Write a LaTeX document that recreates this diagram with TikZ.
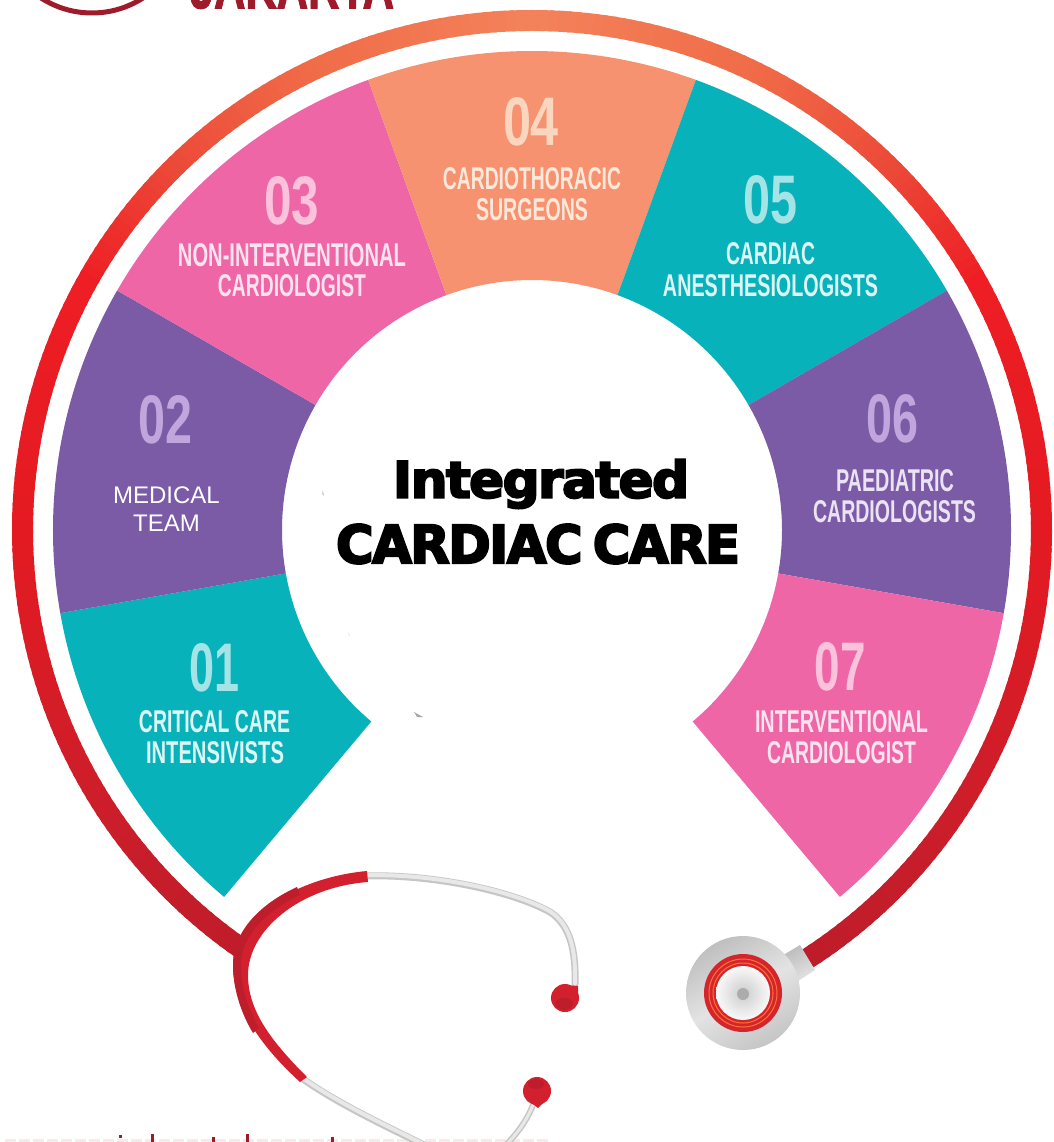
\documentclass[tikz,border=0pt]{standalone}
\usepackage{graphicx}
\usepackage{fontspec}
\setmainfont{Liberation Sans}
\newfontfamily\heavyf[BoldFeatures={FakeBold=4},LetterSpace=-3]{DejaVu Sans}
\newfontfamily\brandf[BoldFeatures={FakeBold=2}]{Liberation Sans}
\usetikzlibrary{calc}
\definecolor{tealc}{HTML}{08B2BB}
\definecolor{purplec}{HTML}{7B5AA6}
\definecolor{pinkc}{HTML}{EE66A6}
\definecolor{salmonc}{HTML}{F6926F}
\definecolor{numteal}{HTML}{A4E4E6}
\definecolor{numpurple}{HTML}{C0A6DC}
\definecolor{numpink}{HTML}{FBC2DC}
\definecolor{numsalmon}{HTML}{FBD6BF}
\definecolor{labteal}{HTML}{DDF6F6}
\definecolor{labpink}{HTML}{FCE3EF}
\definecolor{labpurple}{HTML}{EBE2F4}
\definecolor{labsalmon}{HTML}{FDE8DA}
\definecolor{brandred}{HTML}{9E1B2C}
\definecolor{tubered}{HTML}{D3202E}
\definecolor{tubedark}{HTML}{BE1E2C}
\definecolor{r0}{RGB}{243,130,90}
\definecolor{r1}{RGB}{240,108,72}
\definecolor{r2}{RGB}{236,72,56}
\definecolor{r3}{RGB}{238,30,36}
\definecolor{r4}{RGB}{228,26,34}
\definecolor{r5}{RGB}{205,30,42}
\definecolor{r6}{RGB}{190,28,42}
\newcommand{\seglab}[6]{\node[inner sep=0pt,text=#5] (#6) at (#1) {\resizebox{#2pt}{#3pt}{\bfseries #4}};}
\tikzset{
  greytube/.style={line width=7pt,draw=gray!45,line cap=round},
  greycore/.style={line width=4pt,draw=gray!18,line cap=round},
}
\begin{document}
\begin{tikzpicture}[x=1pt,y=-1pt]
\useasboundingbox (0,0) rectangle (1053,1142);
\fill[white] (0,0) rectangle (1053,1142);
\clip (0,0) rectangle (1053,1142);
% brand remnants
\draw[brandred,line width=5pt] (92,-81) circle[radius=94];
\node[anchor=south,inner sep=0pt,text=brandred] (brand) at (292,9) {\resizebox{204pt}{42pt}{\brandf\bfseries JAKARTA}};
% tops of the cut-off line at the lower edge
\draw[brandred!9,line width=4pt,dash pattern=on 11pt off 3pt] (5,1140.5) -- (548,1140.5);
\fill[brandred] (119,1135) rectangle (122,1138);
\fill[brandred] (151,1134) rectangle (153.5,1142);
\fill[brandred] (212,1137) rectangle (214.5,1142);
\fill[brandred] (246,1134) rectangle (248.5,1142);
\fill[brandred] (331,1137) rectangle (333.5,1142);
% ring and fan
\begin{scope}[shift={(532,530)},y=1pt]
  \foreach \ta/\tb/\ca/\cb in {0/25/r0/r1,25/45/r1/r2,45/60/r2/r3,60/90/r3/r4,90/120/r4/r5,120/147/r5/r6}{
    \pgfmathtruncatemacro\tend{\tb-1}
    \foreach \t in {\ta,...,\tend}{
      \pgfmathsetmacro\p{100*(\t-\ta)/(\tb-\ta)}
      \colorlet{ringnow}{\cb!\p!\ca}
      \pgfmathsetmacro\ar{90-\t}
      \pgfmathsetmacro\arb{90-\t-1.4}
      \draw[ringnow,line width=21pt] (\ar:509.5) arc[start angle=\ar,end angle=\arb,radius=509.5];
      \ifnum\t<145
        \pgfmathsetmacro\al{90+\t}
        \pgfmathsetmacro\alb{90+\t+1.4}
        \draw[ringnow,line width=21pt] (\al:509.5) arc[start angle=\al,end angle=\alb,radius=509.5];
      \fi
    }
  }
  \foreach \a/\b/\c in {230/190/tealc,190/150/purplec,150/110/pinkc,110/70/salmonc,70/30/tealc,30/-10/purplec,-10/-50/pinkc}{
    \fill[\c] (\a:479) arc[start angle=\a,end angle=\b,radius=479] -- (\b:250) arc[start angle=\b,end angle=\a,radius=250] -- cycle;
  }
\end{scope}
% numbers
\seglab{215,668}{50}{48}{01}{numteal}{n1}
\seglab{166,420}{54}{48}{02}{numpurple}{n2}
\seglab{292,201}{55}{48}{03}{numpink}{n3}
\seglab{531,122}{56}{48}{04}{numsalmon}{n4}
\seglab{770,200}{54}{48}{05}{numteal}{n5}
\seglab{892,419}{52}{48}{06}{numpurple}{n6}
\seglab{840,667}{51}{48}{07}{numpink}{n7}
% labels
\seglab{214.5,722}{151}{22}{CRITICAL CARE}{labteal}{l1a}
\seglab{215,753}{138}{22}{INTENSIVISTS}{labteal}{l1b}
\seglab{292,255}{228}{23}{NON-INTERVENTIONAL}{labpink}{l3a}
\seglab{292,286}{148}{22}{CARDIOLOGIST}{labpink}{l3b}
\seglab{532,179}{178}{22}{CARDIOTHORACIC}{labsalmon}{l4a}
\seglab{532,210}{112}{22}{SURGEONS}{labsalmon}{l4b}
\seglab{770.5,254}{89}{22}{CARDIAC}{labteal}{l5a}
\seglab{770.5,286}{215}{22}{ANESTHESIOLOGISTS}{labteal}{l5b}
\seglab{895,481}{118}{22}{PAEDIATRIC}{labpurple}{l6a}
\seglab{894.5,512}{163}{22}{CARDIOLOGISTS}{labpurple}{l6b}
\seglab{841.5,722}{173}{22}{INTERVENTIONAL}{labpink}{l7a}
\seglab{841.5,753}{149}{22}{CARDIOLOGIST}{labpink}{l7b}
\node[align=center,text=white,font=\fontsize{24}{27.5}\selectfont,inner sep=0pt] (med) at (166.5,509) {MEDICAL\\TEAM};
% centre title
\node[inner sep=0pt] (t1) at (541,484) {\resizebox*{296pt}{49pt}{\heavyf\bfseries Integrated}};
\node[inner sep=0pt] (t2) at (538,544) {\resizebox{404pt}{39pt}{\heavyf\bfseries CARDIAC\hspace{-0.12em} CARE}};
% specks
\fill[gray!70] (414,712) -- (423,717) -- (417,717) -- cycle;
\fill[gray!40] (323,490) -- (324,496) -- (322,494) -- cycle;
\fill[gray!20] (348,632) -- (350,636) -- (349,636) -- cycle;
% stethoscope tubes
\def\uppertube{(366,876) .. controls (430,874) and (510,890) .. (550,912) .. controls (570,925) and (576,950) .. (575,984)}
\draw[greytube] \uppertube;
\draw[greycore,yshift=0.7pt] \uppertube;
\def\lowertube{(303,1079) .. controls (340,1105) and (390,1128) .. (430,1148)}
\draw[greytube] \lowertube;
\draw[greycore,yshift=0.7pt] \lowertube;
\def\stemtube{(533,1105) .. controls (527,1120) and (518,1133) .. (503,1148)}
\draw[greytube,line width=6pt] \stemtube;
\draw[greycore,line width=3pt] \stemtube;
\fill[tubered] (367,871) .. controls (300,877) and (233,915) .. (233,965) .. controls (233,1010) and (265,1050) .. (300,1082)
  -- (307,1077) .. controls (270,1040) and (248,1010) .. (248,975) .. controls (248,930) and (300,887) .. (368,882) -- cycle;
\fill[tubedark] (297,887) .. controls (262,903) and (233,930) .. (233,965) .. controls (233,990) and (242,1015) .. (253,1033)
  -- (259,1028) .. controls (246,1005) and (241,985) .. (241,965) .. controls (241,935) and (268,910) .. (300,895) -- cycle;
% earpieces
\fill[tubered] (565,998) circle[radius=14];
\fill[tubered] (562,985) -- (578,986) -- (578,1000) -- cycle;
\fill[tubedark] (564,1004) ellipse[x radius=9,y radius=6];
\fill[tubered] (537,1091) circle[radius=14];
\fill[tubered] (528,1100) -- (546,1100) -- (538,1108) -- cycle;
\fill[tubedark] (536,1084) ellipse[x radius=8,y radius=5];
% chest piece
\shade[left color=gray!55,right color=gray!20,shading angle=30] (775,960) -- (800,945) -- (815,970) -- (792,985) -- cycle;
\shade[top color=gray!50,bottom color=gray!45,middle color=gray!22,shading angle=30] (743,993) circle[radius=57];
\fill[tubered!95!orange] (743,993) circle[radius=39];
\draw[orange!60!red!80!white,line width=1pt] (743,993) circle[radius=34];
\draw[orange!60!red!80!white,line width=1pt] (743,993) circle[radius=30];
\shade[inner color=gray!40,outer color=gray!5] (743,993) circle[radius=27];
\fill[gray!65] (743,994) circle[radius=6];
\end{tikzpicture}
\end{document}
